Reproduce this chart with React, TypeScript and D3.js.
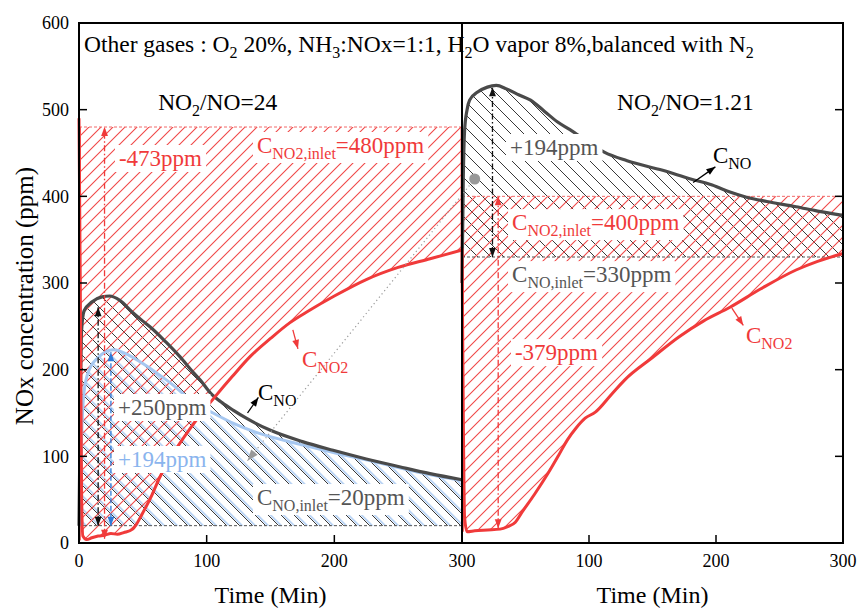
import React, { useLayoutEffect, useRef, useState } from "react";
import * as d3 from "d3";

// ---------- data (time in min, concentration in ppm) ----------
const leftNO: [number, number][] = [
  [0, 20], [1, 150], [2, 245], [4, 268], [10, 278], [18, 284], [24, 285], [32, 280], [42, 266],
  [50, 256], [56, 249], [68, 232], [79, 215], [90, 196], [95, 188], [103, 173], [112, 162],
  [121, 153], [131, 144], [150, 130], [175, 117], [199, 107], [225, 97], [251, 88], [275, 80], [300, 73],
];
const leftBlue: [number, number][] = [
  [1, 20], [2, 120], [4, 175], [8, 200], [15, 214], [27, 223], [40, 216], [50, 207], [61, 196],
  [73, 183], [85, 168], [95, 158], [105, 150], [121, 138], [140, 127], [173, 114], [200, 104],
  [225, 96], [265, 82], [300, 72],
];
const leftNO2: [number, number][] = [
  [0, 490], [1, 300], [2, 60], [3, 8], [6, 4], [10, 6], [15, 8], [20, 9], [25, 11], [30, 10],
  [35, 12], [42, 16], [50, 35], [57, 55], [63, 75], [70, 95], [78, 113], [87, 132], [95, 148],
  [105, 166], [120, 192], [134, 215], [150, 236], [165, 254], [180, 268], [200, 285], [225, 304],
  [250, 318], [275, 328], [300, 338],
];
const rightNO: [number, number][] = [
  [0, 300], [1, 420], [2, 475], [4, 500], [6, 511], [12, 520], [20, 526], [27, 528], [35, 524],
  [45, 517], [54, 511], [65, 498], [75, 486], [85, 477], [100, 462], [112, 451], [130, 441],
  [158, 430], [180, 420], [197, 413], [211, 405], [224, 399], [240, 394], [263, 388], [280, 383],
  [300, 378],
];
const rightNO2: [number, number][] = [
  [0, 340], [1, 150], [2, 30], [4, 13], [10, 14], [20, 15], [30, 16], [36, 19], [42, 24], [47, 35],
  [57, 56], [68, 81], [76, 101], [83, 119], [90, 133], [97, 144], [105, 151], [118, 172],
  [128, 188], [150, 214], [171, 238], [190, 256], [211, 272], [235, 293], [263, 315], [280, 325],
  [300, 334],
];
const leftNO2Inlet = 480;
const leftNOInlet = 20;
const rightNO2Inlet = 400;
const rightNOInlet = 330;
const yTicks = [0, 100, 200, 300, 400, 500, 600];
const leftXTicks = [0, 100, 200, 300];
const rightXTicks = [100, 200, 300];

// ---------- layout ----------
const W = 858, H = 610;
const X0 = 79, XM = 462, X1 = 843, Y0 = 543, Y1 = 23;
const xL = d3.scaleLinear().domain([0, 300]).range([X0, XM]);
const xR = d3.scaleLinear().domain([0, 300]).range([XM, X1]);
const y = d3.scaleLinear().domain([0, 600]).range([Y0, Y1]);

const FONT = "'Liberation Serif', 'Times New Roman', serif";
const RED = "#f03a3a";
const RED_HATCH = "#f04848";
const RED_LIGHT = "#f26a6a";
const GRAY = "#555555";
const DARK = "#4a4a4a";
const BLUE_LIGHT = "#a6c7f0";
const BLUE = "#2f7ad8";

type Pt = [number, number];
type Seg = [string, boolean]; // text, isSubscript

function Label(props: {
  x: number; y: number; fill: string; size?: number; sub?: number; box?: boolean; segs: Seg[];
}) {
  const ref = useRef<SVGTextElement>(null);
  const [bb, setBB] = useState<null | { x: number; y: number; w: number; h: number }>(null);
  useLayoutEffect(() => {
    if (ref.current) {
      const b = ref.current.getBBox();
      setBB({ x: b.x, y: b.y, w: b.width, h: b.height });
    }
  }, []);
  const size = props.size ?? 23;
  const subSize = props.sub ?? 16;
  const shift = Math.round(size * 0.24);
  let prev = false;
  const spans = props.segs.map(([t, s], i) => {
    const dy = s && !prev ? shift : !s && prev ? -shift : 0;
    prev = s;
    return (
      <tspan key={i} dy={dy} fontSize={s ? subSize : size}>{t}</tspan>
    );
  });
  return (
    <g>
      {props.box && bb && (
        <rect x={bb.x - 4} y={bb.y - 1} width={bb.w + 8} height={bb.h + 2} fill="white" />
      )}
      <text ref={ref} x={props.x} y={props.y} fill={props.fill} fontSize={size} fontFamily={FONT} style={{ whiteSpace: "pre" }}>
        {spans}
      </text>
    </g>
  );
}

function Arrow(props: {
  x1: number; y1: number; x2: number; y2: number; color: string; dash?: string; both?: boolean; w?: number; head?: number;
}) {
  const { x1, y1, x2, y2, color } = props;
  const hl = props.head ?? 9;
  const hw = hl * 0.38;
  const head = (ax: number, ay: number, bx: number, by: number) => {
    const dx = bx - ax, dy = by - ay;
    const L = Math.hypot(dx, dy) || 1;
    const ux = dx / L, uy = dy / L;
    const px = -uy, py = ux;
    const bxp = bx - ux * hl, byp = by - uy * hl;
    return `M${bx},${by} L${bxp + px * hw},${byp + py * hw} L${bxp - px * hw},${byp - py * hw} Z`;
  };
  return (
    <g>
      <line x1={x1} y1={y1} x2={x2} y2={y2} stroke={color} strokeWidth={props.w ?? 1.3} strokeDasharray={props.dash} />
      <path d={head(x1, y1, x2, y2)} fill={color} />
      {props.both && <path d={head(x2, y2, x1, y1)} fill={color} />}
    </g>
  );
}

export default function App() {
  const lineL = d3.line<Pt>().x((d) => xL(d[0])).y((d) => y(d[1])).curve(d3.curveMonotoneX);
  const lineR = d3.line<Pt>().x((d) => xR(d[0])).y((d) => y(d[1])).curve(d3.curveMonotoneX);
  const areaL = (data: Pt[], base: number) =>
    d3.area<Pt>().x((d) => xL(d[0])).y0(y(base)).y1((d) => y(d[1])).curve(d3.curveMonotoneX)(data) ?? "";
  const areaR = (data: Pt[], base: number) =>
    d3.area<Pt>().x((d) => xR(d[0])).y0(y(base)).y1((d) => y(d[1])).curve(d3.curveMonotoneX)(data) ?? "";

  const DD = "6,2.5,1.5,2.5";

  return (
    <svg width={W} height={H} style={{ position: "absolute", left: 0, top: 0, background: "white" }} fontFamily={FONT}>
      <defs>
        <pattern id="hRed" width={12} height={12} patternUnits="userSpaceOnUse">
          <path d="M-3,3 L3,-3 M0,12 L12,0 M9,15 L15,9" stroke={RED_HATCH} strokeWidth={1.1} />
        </pattern>
        <pattern id="hBlack" width={13} height={13} patternUnits="userSpaceOnUse">
          <path d="M-3,10 L3,16 M0,0 L13,13 M10,-3 L16,3" stroke="#222" strokeWidth={0.9} />
        </pattern>
        <pattern id="hBlue" width={13} height={13} patternUnits="userSpaceOnUse" patternTransform="translate(2.5,0)">
          <path d="M-3,10 L3,16 M0,0 L13,13 M10,-3 L16,3" stroke={BLUE_LIGHT} strokeWidth={1.5} />
        </pattern>
        <clipPath id="clipL"><rect x={X0} y={Y1} width={XM - X0} height={Y0 - Y1} /></clipPath>
        <clipPath id="clipR"><rect x={XM} y={Y1} width={X1 - XM} height={Y0 - Y1} /></clipPath>
      </defs>

      {/* ---------- hatched areas ---------- */}
      <g clipPath="url(#clipL)">
        <path d={areaL(leftBlue, leftNOInlet)} fill="url(#hBlue)" />
        <path d={areaL(leftNO, leftNOInlet)} fill="url(#hBlack)" />
        <path d={areaL(leftNO2, leftNO2Inlet)} fill="url(#hRed)" />
      </g>
      <g clipPath="url(#clipR)">
        <path d={areaR(rightNO, rightNOInlet)} fill="url(#hBlack)" />
        <path d={areaR(rightNO2, rightNO2Inlet)} fill="url(#hRed)" />
      </g>

      {/* region boundaries */}
      <line x1={xL(0) + 1.5} x2={xL(0) + 1.5} y1={y(leftNO2Inlet)} y2={y(3)} stroke={RED_LIGHT} strokeWidth={1} />
      <line x1={xL(300) - 1} x2={xL(300) - 1} y1={y(leftNO2Inlet)} y2={y(338)} stroke={RED_LIGHT} strokeWidth={1} />
      <line x1={xR(0) + 1.5} x2={xR(0) + 1.5} y1={y(rightNO2Inlet)} y2={y(13)} stroke={RED_LIGHT} strokeWidth={1} />
      <line x1={xL(0)} x2={xL(300)} y1={y(leftNO2Inlet)} y2={y(leftNO2Inlet)} stroke={RED_LIGHT} strokeWidth={1} strokeDasharray="3,2" />
      <line x1={xR(0)} x2={xR(300)} y1={y(rightNO2Inlet)} y2={y(rightNO2Inlet)} stroke={RED_LIGHT} strokeWidth={1} strokeDasharray="3,2" />
      <line x1={xL(0)} x2={xL(300)} y1={y(leftNOInlet)} y2={y(leftNOInlet)} stroke={GRAY} strokeWidth={1} strokeDasharray="3,2" />
      <line x1={xR(0)} x2={xR(300)} y1={y(rightNOInlet)} y2={y(rightNOInlet)} stroke={GRAY} strokeWidth={1} strokeDasharray="3,2" />

      {/* ---------- curves ---------- */}
      <path d={lineL(leftBlue) ?? ""} fill="none" stroke={BLUE_LIGHT} strokeWidth={3} />
      <path d={lineL(leftNO) ?? ""} fill="none" stroke={DARK} strokeWidth={3.2} />
      <path d={lineL(leftNO2) ?? ""} fill="none" stroke={RED} strokeWidth={3} />
      <path d={lineR(rightNO) ?? ""} fill="none" stroke={DARK} strokeWidth={3.2} />
      <path d={lineR(rightNO2) ?? ""} fill="none" stroke={RED} strokeWidth={3} />

      {/* dotted connector */}
      <Arrow x1={xR(10)} y1={y(420)} x2={xL(132)} y2={y(95)} color="#999" dash="1.2,3" w={1.2} head={11} />
      <circle cx={xR(10)} cy={y(420)} r={5.5} fill="#999" />

      {/* ---------- annotation arrows ---------- */}
      <Arrow x1={xL(15)} y1={y(leftNOInlet)} x2={xL(15)} y2={y(272)} color="#111" dash={DD} both />
      <Arrow x1={xL(25)} y1={y(leftNOInlet)} x2={xL(25)} y2={y(220)} color={BLUE} dash="5,2.5" both />
      <Arrow x1={xL(20)} y1={y(5)} x2={xL(20)} y2={y(leftNO2Inlet)} color={RED} dash={DD} both />
      <Arrow x1={xR(24)} y1={y(rightNOInlet)} x2={xR(24)} y2={y(526)} color="#111" dash={DD} both />
      <Arrow x1={xR(28.5)} y1={y(17)} x2={xR(28.5)} y2={y(rightNO2Inlet)} color={RED} dash={DD} both />

      <Arrow x1={xL(132)} y1={y(150)} x2={xL(140.5)} y2={y(168)} color="#000" w={1.3} />
      <Arrow x1={xR(182)} y1={y(416)} x2={xR(199.5)} y2={y(434)} color="#000" w={1.3} />
      <Arrow x1={xL(167.5)} y1={y(246)} x2={xL(171.5)} y2={y(224)} color={RED} w={1.3} />
      <Arrow x1={xR(212.5)} y1={y(271)} x2={xR(221.5)} y2={y(251)} color={RED} w={1.3} />

      {/* ---------- labels ---------- */}
      <Label x={xL(3.9)} y={y(566.5)} fill="#000" size={23.5} sub={16}
        segs={[["Other gases : O", false], ["2", true], [" 20%, NH", false], ["3", true], [":NOx=1:1, H", false], ["2", true], ["O vapor 8%,balanced with N", false], ["2", true]]} />
      <Label x={xL(62)} y={y(500)} fill="#000" size={23.5} sub={16}
        segs={[["NO", false], ["2", true], ["/NO=24", false]]} />
      <Label x={xR(122)} y={y(500)} fill="#000" size={23.5} sub={16}
        segs={[["NO", false], ["2", true], ["/NO=1.21", false]]} />
      <Label x={xL(31.3)} y={y(435)} fill={RED} box segs={[["-473ppm", false]]} />
      <Label x={xL(139.4)} y={y(450)} fill={RED} box
        segs={[["C", false], ["NO2,inlet", true], ["=480ppm", false]]} />
      <Label x={xL(174.6)} y={y(203)} fill={RED} segs={[["C", false], ["NO2", true]]} />
      <Label x={xL(140.2)} y={y(165)} fill="#000" segs={[["C", false], ["NO", true]]} />
      <Label x={xL(30.5)} y={y(147.7)} fill={GRAY} box segs={[["+250ppm", false]]} />
      <Label x={xL(30.5)} y={y(87.7)} fill="#8ab4ee" box segs={[["+194ppm", false]]} />
      <Label x={xL(139.4)} y={y(43.8)} fill={GRAY} box
        segs={[["C", false], ["NO,inlet", true], ["=20ppm", false]]} />

      <Label x={xR(37.8)} y={y(447.7)} fill={GRAY} box segs={[["+194ppm", false]]} />
      <Label x={xR(197.6)} y={y(438.5)} fill="#000" segs={[["C", false], ["NO", true]]} />
      <Label x={xR(39.4)} y={y(361)} fill={RED} box
        segs={[["C", false], ["NO2,inlet", true], ["=400ppm", false]]} />
      <Label x={xR(39.4)} y={y(301)} fill={GRAY} box
        segs={[["C", false], ["NO,inlet", true], ["=330ppm", false]]} />
      <Label x={xR(41.7)} y={y(211)} fill={RED} box segs={[["-379ppm", false]]} />
      <Label x={xR(223.6)} y={y(230.8)} fill={RED} segs={[["C", false], ["NO2", true]]} />

      {/* ---------- axes ---------- */}
      <g stroke="#000" strokeWidth={2} fill="none">
        <rect x={X0} y={Y1} width={X1 - X0} height={Y0 - Y1} />
        <line x1={XM} x2={XM} y1={Y1} y2={Y0} />
      </g>
      <g stroke="#000" strokeWidth={1.5}>
        {yTicks.filter((v) => v > 0 && v < 600).map((v) => (
          <g key={"yt" + v}>
            <line x1={X0} x2={X0 + 8} y1={y(v)} y2={y(v)} />
            <line x1={X1} x2={X1 - 8} y1={y(v)} y2={y(v)} />
          </g>
        ))}
        {leftXTicks.filter((v) => v > 0 && v < 300).map((v) => (
          <line key={"xl" + v} x1={xL(v)} x2={xL(v)} y1={Y0} y2={Y0 - 8} />
        ))}
        {rightXTicks.filter((v) => v < 300).map((v) => (
          <line key={"xr" + v} x1={xR(v)} x2={xR(v)} y1={Y0} y2={Y0 - 8} />
        ))}
      </g>
      <g fontSize={18} fill="#000">
        {yTicks.map((v) => (
          <text key={"yl" + v} x={X0 - 10} y={y(v)} dy="0.35em" textAnchor="end">{v}</text>
        ))}
        {leftXTicks.map((v) => (
          <text key={"xll" + v} x={xL(v)} y={567} textAnchor="middle">{v}</text>
        ))}
        {rightXTicks.map((v) => (
          <text key={"xrl" + v} x={xR(v)} y={567} textAnchor="middle">{v}</text>
        ))}
      </g>
      <text x={(X0 + XM) / 2} y={603} textAnchor="middle" fontSize={24}>Time (Min)</text>
      <text x={(XM + X1) / 2} y={603} textAnchor="middle" fontSize={24}>Time (Min)</text>
      <text transform="translate(33,296) rotate(-90)" textAnchor="middle" fontSize={25}>
        NOx concentration (ppm)
      </text>
    </svg>
  );
}
